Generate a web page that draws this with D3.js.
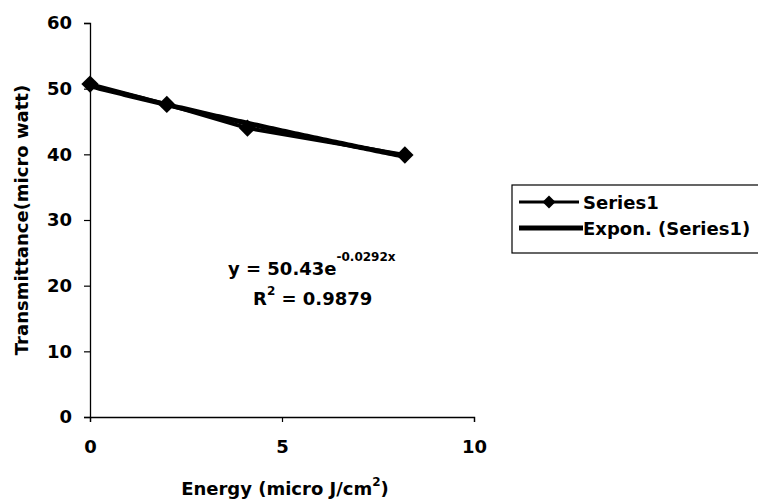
<!DOCTYPE html>
<html>
<head>
<meta charset="utf-8">
<script src="https://cdn.jsdelivr.net/npm/d3@7"></script>
<style>
  body { margin: 0; background: #fff; }
  text { font-family: "DejaVu Sans", sans-serif; font-weight: bold; fill: #000; }
</style>
</head>
<body>
<div id="chart"></div>
<script>
const energy = [0, 2, 4.1, 8.2];
const transmittance = [50.7, 47.6, 44.0, 39.9];
const xTicks = [0, 5, 10];
const yTicks = [0, 10, 20, 30, 40, 50, 60];
const fitA = 50.43;
const fitB = -0.0292;
const legendLabels = ["Series1", "Expon. (Series1)"];

const width = 758, height = 501;
const svg = d3.select("#chart").append("svg")
  .attr("width", width)
  .attr("height", height);

const x = d3.scaleLinear().domain([0, 10]).range([90, 474]);
const y = d3.scaleLinear().domain([0, 60]).range([417, 23]);

// axes
const yAxis = svg.append("g")
  .attr("transform", `translate(${x(0)},0)`)
  .call(d3.axisLeft(y).tickValues(yTicks).tickSize(6).tickPadding(12));
const xAxis = svg.append("g")
  .attr("transform", `translate(0,${y(0)})`)
  .call(d3.axisBottom(x).tickValues(xTicks).tickSize(5).tickPadding(18));

[xAxis, yAxis].forEach(g => {
  g.select(".domain").attr("stroke", "#000").attr("stroke-width", 1.3);
  g.selectAll(".tick line").attr("stroke", "#000").attr("stroke-width", 1.2);
  g.selectAll(".tick text")
    .style("font-size", "18px")
    .style("font-family", "'DejaVu Sans', sans-serif")
    .style("font-weight", "bold")
    .attr("fill", "#000");
});

// trend line
const fitX = d3.range(0, 101).map(i => d3.max(energy) * i / 100);
const line = d3.line().x(d => x(d[0])).y(d => y(d[1]));
svg.append("path")
  .datum(fitX.map(v => [v, fitA * Math.exp(fitB * v)]))
  .attr("d", line)
  .attr("fill", "none")
  .attr("stroke", "#000")
  .attr("stroke-width", 5);

// series line
const pts = energy.map((e, i) => [e, transmittance[i]]);
svg.append("path")
  .datum(pts)
  .attr("d", line)
  .attr("fill", "none")
  .attr("stroke", "#000")
  .attr("stroke-width", 4);

const diamond = d3.symbol().type(d3.symbolSquare).size(150);
svg.selectAll(".pt")
  .data(pts)
  .enter()
  .append("path")
  .attr("class", "pt")
  .attr("transform", d => `translate(${x(d[0])},${y(d[1])}) rotate(45)`)
  .attr("d", diamond)
  .attr("fill", "#000");

// equation
const eq = svg.append("text")
  .attr("x", 228).attr("y", 275)
  .style("font-size", "18px");
eq.append("tspan").text("y = 50.43e");
eq.append("tspan").attr("dy", -14).style("font-size", "12px").text("-0.0292x");

const r2 = svg.append("text")
  .attr("x", 253).attr("y", 305)
  .style("font-size", "18px");
r2.append("tspan").text("R");
r2.append("tspan").attr("dy", -10).style("font-size", "12px").text("2");
r2.append("tspan").attr("dy", 10).text(" = 0.9879");

// axis titles
svg.append("text")
  .attr("transform", `translate(28,220) rotate(-90)`)
  .attr("text-anchor", "middle")
  .style("font-size", "18px")
  .text("Transmittance(micro watt)");

const xt = svg.append("text")
  .attr("x", 285).attr("y", 495)
  .attr("text-anchor", "middle")
  .style("font-size", "18px");
xt.append("tspan").text("Energy (micro J/cm");
xt.append("tspan").attr("dy", -9).style("font-size", "12px").text("2");
xt.append("tspan").attr("dy", 9).text(")");

// legend
const lg = svg.append("g");
lg.append("rect")
  .attr("x", 512).attr("y", 185)
  .attr("width", 260).attr("height", 68)
  .attr("fill", "#fff")
  .attr("stroke", "#000")
  .attr("stroke-width", 1.2);
const ly = [202, 228];
lg.append("line")
  .attr("x1", 519).attr("x2", 579)
  .attr("y1", ly[0]).attr("y2", ly[0])
  .attr("stroke", "#000").attr("stroke-width", 3);
lg.append("path")
  .attr("transform", `translate(549,${ly[0]}) rotate(45)`)
  .attr("d", d3.symbol().type(d3.symbolSquare).size(85))
  .attr("fill", "#000");
lg.append("line")
  .attr("x1", 519).attr("x2", 583)
  .attr("y1", ly[1]).attr("y2", ly[1])
  .attr("stroke", "#000").attr("stroke-width", 5);
lg.selectAll(".lt")
  .data(legendLabels)
  .enter()
  .append("text")
  .attr("x", 583)
  .attr("y", (d, i) => ly[i] + 7)
  .style("font-size", "18px")
  .text(d => d);
</script>
</body>
</html>
